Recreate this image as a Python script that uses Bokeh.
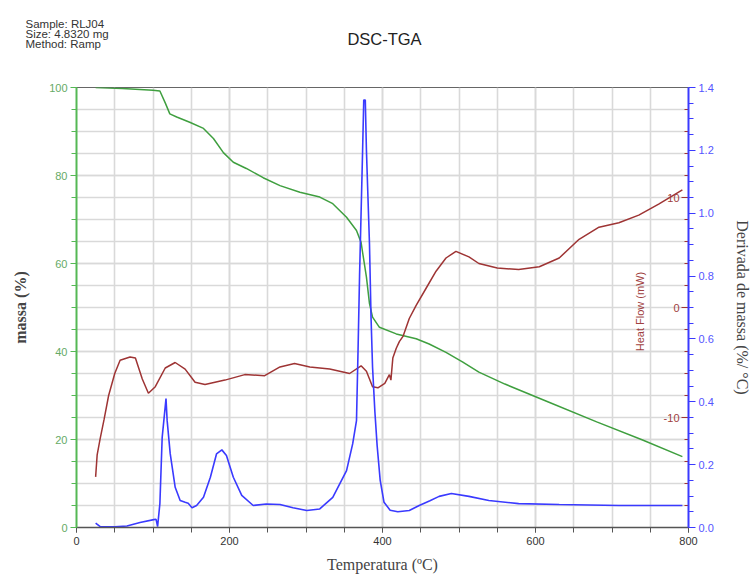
import math
from bokeh.plotting import figure
from bokeh.models import Range1d, LinearAxis, Label, SingleIntervalTicker, FixedTicker, PrintfTickFormatter, ColumnDataSource
from bokeh.embed import file_html
from bokeh.resources import INLINE
from bokeh.core.properties import value

# ---- data ----
temp_mass = [25, 60, 100, 109, 116, 122, 131, 148, 166, 179, 192, 205, 222, 244, 266, 292, 318, 335,
             353, 366, 372, 374, 379, 383, 387, 396, 418, 444, 461, 483, 505, 526, 560, 620, 680, 740, 792]
mass = [100, 99.8, 99.4, 99.2, 96.5, 94.0, 93.3, 92.1, 90.7, 88.4, 85.2, 83.0, 81.6, 79.5, 77.7, 76.2, 75.1, 73.6,
        70.5, 67.5, 64.8, 62.5, 56.9, 50.9, 47.8, 45.5, 44.0, 42.9, 41.7, 39.8, 37.6, 35.3, 32.6, 28.3, 24.0, 19.9, 16.1]

temp_deriv = [25, 31, 50, 66, 83, 101, 104, 106, 109, 112, 117, 118.5, 122.5, 129, 135.5, 142, 146, 151, 157,
              166, 175, 183, 190, 196, 205, 216, 231, 248, 266, 283, 301, 318, 335, 353, 361, 366, 368, 370,
              372, 374, 375.5, 377.5, 379, 381, 383, 385, 387, 390, 393, 397, 402, 410, 420, 435, 448, 462,
              474, 490, 513, 539, 578, 631, 709, 792]
deriv = [0.014, 0.003, 0.002, 0.005, 0.016, 0.025, 0.026, 0.003, 0.076, 0.287, 0.41, 0.34, 0.235, 0.128, 0.086,
         0.08, 0.077, 0.063, 0.07, 0.096, 0.16, 0.234, 0.247, 0.229, 0.16, 0.102, 0.07, 0.075, 0.073, 0.063,
         0.054, 0.059, 0.096, 0.181, 0.266, 0.34, 0.56, 0.8, 1.0, 1.2, 1.36, 1.36, 1.2, 1.05, 0.9, 0.67, 0.51,
         0.37, 0.26, 0.15, 0.08, 0.055, 0.05, 0.054, 0.07, 0.085, 0.099, 0.108, 0.099, 0.086, 0.076, 0.073,
         0.07, 0.07]

temp_hf = [25, 27, 31, 36, 42, 50, 57, 70, 77, 86, 94, 103, 116, 129, 142, 155, 168, 194, 220, 246, 266, 285,
           305, 331, 357, 372, 379, 387, 394, 403, 409, 411, 413.5, 418, 422, 427, 435, 444, 457, 470, 483, 496,
           513, 526, 550, 578, 605, 631, 657, 683, 709, 735, 761, 792]
heat_flow = [-15.4, -13.4, -11.9, -10.2, -8.0, -6.0, -4.8, -4.5, -4.6, -6.5, -7.8, -7.2, -5.5, -5.0, -5.6, -6.8,
             -7.0, -6.6, -6.1, -6.2, -5.4, -5.1, -5.4, -5.6, -6.0, -5.3, -5.8, -7.2, -7.3, -6.9, -6.1, -6.6, -4.6,
             -3.7, -3.1, -2.6, -1.0, 0.2, 1.75, 3.3, 4.5, 5.1, 4.6, 4.0, 3.6, 3.45, 3.7, 4.5, 6.2, 7.3, 7.7, 8.4,
             9.4, 10.7]

deriv_ticks = [0.0, 0.2, 0.4, 0.6, 0.8, 1.0, 1.2, 1.4]
deriv_minor = [0.05, 0.1, 0.15, 0.25, 0.3, 0.35, 0.45, 0.5, 0.55, 0.65, 0.7, 0.75, 0.85, 0.9, 0.95,
               1.05, 1.1, 1.15, 1.25, 1.3, 1.35]
hf_major = [-10, 0, 10]
hf_minor = [-18, -16, -14, -12, -8, -6, -4, -2, 2, 4, 6, 8, 12, 14, 16, 18]
header_lines = ["Sample: RLJ04", "Size:  4.8320 mg", "Method: Ramp"]
title_text = "DSC-TGA"

GREEN = "#3f9f3f"
BLUE = "#3a3aff"
BROWN = "#9e3434"
GRID = "#d9d9d9"

p = figure(width=753, height=577, x_range=Range1d(0, 800), y_range=Range1d(0, 100),
           output_backend="svg", toolbar_location=None, title=None,
           min_border_left=76, min_border_right=63, min_border_top=87, min_border_bottom=50)
p.extra_y_ranges = {"d": Range1d(0, 1.4), "hf": Range1d(-20, 20)}
p.outline_line_color = "#666666"
p.background_fill_color = "white"

# grids
for g in (p.xgrid, p.ygrid):
    g.grid_line_color = GRID
    g.grid_line_width = 1.6
    g.minor_grid_line_color = GRID
    g.minor_grid_line_width = 1.6

# bottom axis
xa = p.xaxis[0]
xa.ticker = SingleIntervalTicker(interval=200, num_minor_ticks=4)
xa.axis_label = "Temperatura (ºC)"
xa.axis_label_text_font = "Liberation Serif"
xa.axis_label_text_font_size = "16px"
xa.axis_label_text_font_style = "normal"
xa.axis_label_standoff = 8
xa.axis_line_color = "#555555"
xa.axis_line_width = 1.5
xa.major_tick_line_color = "#555555"
xa.minor_tick_line_color = "#555555"
xa.major_tick_out = 5
xa.major_tick_in = 0
xa.minor_tick_out = 5
xa.minor_tick_in = 0
xa.major_label_standoff = 4
xa.major_label_text_font = "Liberation Sans"
xa.major_label_text_font_size = "11px"
xa.major_label_text_color = "#333333"

# left axis (mass)
ya = p.yaxis[0]
ya.ticker = SingleIntervalTicker(interval=20, num_minor_ticks=4)
ya.axis_label = "massa (%)"
ya.axis_label_text_font = "Liberation Serif"
ya.axis_label_text_font_size = "16px"
ya.axis_label_text_font_style = "bold"
ya.axis_label_standoff = 17
ya.axis_line_color = "#55b855"
ya.axis_line_width = 2
ya.major_tick_line_color = "#55b855"
ya.minor_tick_line_color = "#55b855"
ya.major_tick_out = 6
ya.major_tick_in = 0
ya.minor_tick_out = 5
ya.minor_tick_in = 0
ya.major_label_standoff = 3
ya.major_label_text_font = "Liberation Sans"
ya.major_label_text_font_size = "11px"
ya.major_label_text_color = "#66aa66"

# right axis (derivative)
ra = LinearAxis(y_range_name="d", ticker=FixedTicker(ticks=deriv_ticks, minor_ticks=deriv_minor),
                formatter=PrintfTickFormatter(format="%.1f"))
ra.axis_label = "Derivada de massa (%/ °C)"
ra.axis_label_text_font = "Liberation Serif"
ra.axis_label_text_font_size = "16px"
ra.axis_label_text_font_style = "normal"
ra.axis_label_standoff = 17
ra.axis_line_color = BLUE
ra.axis_line_width = 2
ra.major_tick_line_color = BLUE
ra.minor_tick_line_color = BLUE
ra.major_tick_out = 7
ra.major_tick_in = 0
ra.minor_tick_out = 5
ra.minor_tick_in = 0
ra.major_label_standoff = 3
ra.major_label_text_font = "Liberation Sans"
ra.major_label_text_font_size = "11px"
ra.major_label_text_color = "#5555ff"
p.add_layout(ra, "right")

# curves
p.line(temp_mass, mass, line_color=GREEN, line_width=1.5)
p.line(temp_hf, heat_flow, line_color=BROWN, line_width=1.5, y_range_name="hf")
p.line(temp_deriv, deriv, line_color=BLUE, line_width=1.6, y_range_name="d")

# inner heat-flow axis (ticks and labels drawn at the right edge)
hf_src = ColumnDataSource(dict(x=[800] * len(hf_major), y=hf_major, t=[str(v) for v in hf_major]))
hfm_src = ColumnDataSource(dict(x=[800] * len(hf_minor), y=hf_minor))
p.ray(x="x", y="y", length=7, length_units="screen", angle=math.pi, source=hf_src,
      line_color=BROWN, line_width=1.2, y_range_name="hf")
p.ray(x="x", y="y", length=4, length_units="screen", angle=math.pi, source=hfm_src,
      line_color=BROWN, line_width=1.2, y_range_name="hf")
p.text(x="x", y="y", text="t", source=hf_src, x_offset=-9, text_align="right", text_baseline="middle",
       text_font=value("Liberation Sans"), text_font_size="11px", text_color="#a04040", y_range_name="hf")

p.add_layout(Label(x=563, y=216, x_units="screen", y_units="screen", text="Heat Flow (mW)",
                   angle=math.pi / 2, text_align="center", text_baseline="middle",
                   text_font="Liberation Sans", text_font_size="11px", text_color="#a04040"))

# header and title in the top panel
p.add_layout(Label(x=-51, y=70, x_units="screen", y_units="screen", text="\n".join(header_lines),
                   text_align="left", text_baseline="top", text_line_height=0.84,
                   text_font="Liberation Sans", text_font_size="11.5px", text_color="#333333"), "above")
p.add_layout(Label(x=308, y=17, x_units="screen", y_units="screen", text=title_text,
                   text_align="center", text_baseline="middle",
                   text_font="Liberation Sans", text_font_size="16.5px", text_color="#222222"), "above")

open("out.html", "w").write(file_html(p, INLINE))
